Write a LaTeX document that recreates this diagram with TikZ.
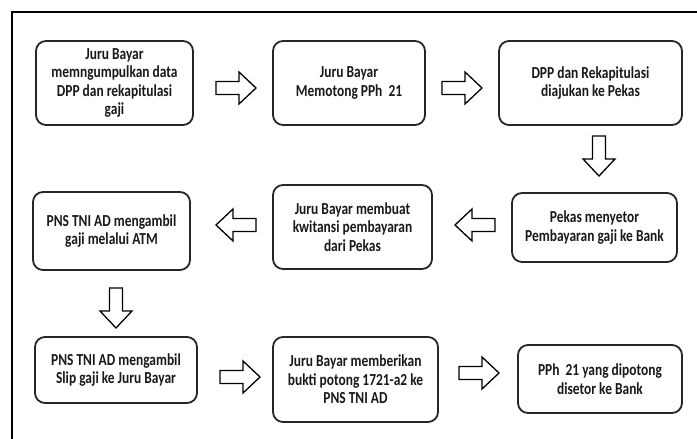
\documentclass[tikz,border=0pt]{standalone}
\usepackage{fontspec}
\setmainfont{Carlito}[FakeStretch=0.8]
\begin{document}
\begin{tikzpicture}[x=1bp,y=-1bp,
  stepbox/.style={draw=black!85, line width=1.8bp, rounded corners=10bp, align=center, inner sep=0,
    font=\bfseries\fontsize{16.8bp}{18.4bp}\selectfont, text=black!90},
  blockarr/.pic={\draw[line width=1.3bp, line join=miter, fill=white] (-20,-6.5) -- (3,-6.5) -- (3,-16) -- (20,0) -- (3,16) -- (3,6.5) -- (-20,6.5) -- cycle;}
]
\useasboundingbox (0,0) rectangle (697,439);
\fill[white] (0,0) rectangle (697,439);
\draw[line width=1.3bp] (12,439) -- (12,12) -- (697,12);

\node[stepbox, minimum width=157bp, minimum height=84bp] (b1) at (114.5,83) {Juru Bayar\\memngumpulkan data\\DPP dan rekapitulasi\\gaji};
\node[stepbox, minimum width=152bp, minimum height=84bp] (b2) at (349,83) {Juru Bayar\\Memotong PPh\ \ 21};
\node[stepbox, minimum width=183bp, minimum height=84bp] (b3) at (590.5,83) {DPP dan Rekapitulasi\\diajukan ke Pekas};
\node[stepbox, minimum width=165bp, minimum height=69bp] (b4) at (594.5,227.5) {Pekas menyetor\\Pembayaran gaji ke Bank};
\node[stepbox, minimum width=159bp, minimum height=84bp] (b5) at (352.5,227) {Juru Bayar membuat\\kwitansi pembayaran\\dari Pekas};
\node[stepbox, minimum width=157bp, minimum height=78bp] (b6) at (111.5,231) {PNS TNI AD mengambil\\gaji melalui ATM};
\node[stepbox, minimum width=162bp, minimum height=66bp] (b7) at (116,370) {PNS TNI AD mengambil\\Slip gaji ke Juru Bayar};
\node[stepbox, minimum width=165bp, minimum height=85bp] (b8) at (355.5,379.5) {Juru Bayar memberikan\\bukti potong 1721-a2 ke\\PNS TNI AD};
\node[stepbox, minimum width=164bp, minimum height=68bp] (b9) at (600,379) {PPh\ \ 21 yang dipotong\\disetor ke Bank};

\pic at (236,88) {blockarr};
\pic at (462,88) {blockarr};
\pic[rotate=-90] at (599,156) {blockarr};
\pic[rotate=180] at (475,225) {blockarr};
\pic[rotate=180] at (236,225) {blockarr};
\pic[rotate=-90] at (116,308) {blockarr};
\pic at (240,377) {blockarr};
\pic at (479,373) {blockarr};
\end{tikzpicture}
\end{document}
